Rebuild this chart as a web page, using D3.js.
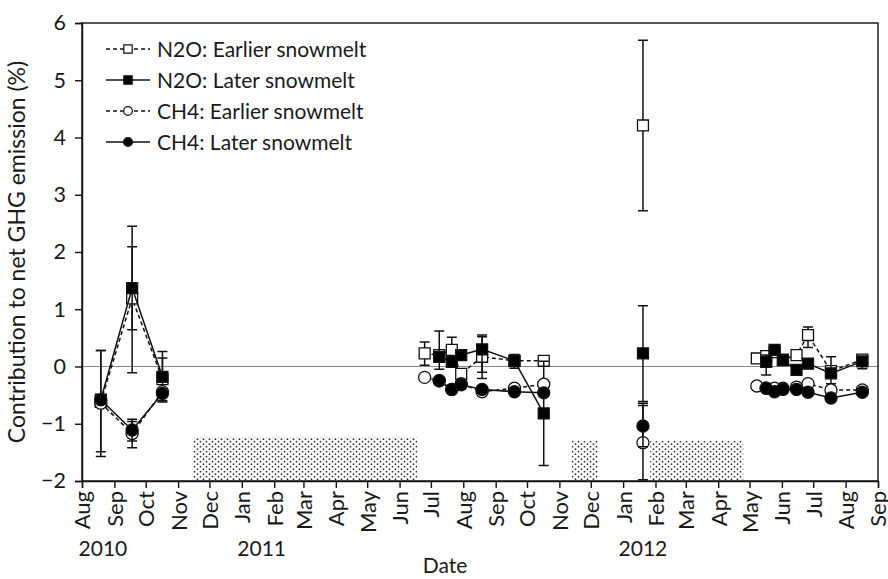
<!DOCTYPE html>
<html>
<head>
<meta charset="utf-8">
<script src="https://cdn.jsdelivr.net/npm/d3@7"></script>
<style>
  body { margin: 0; background: #fff; }
  text { font-family: Lato, "Open Sans", sans-serif; fill: #1a1a1a; }
</style>
</head>
<body>
<div id="chart"></div>
<script>
// sampling dates
const earlyDates = ['2010-08-19', '2010-09-18', '2010-10-17',
  '2011-06-25', '2011-07-09', '2011-07-21', '2011-07-30', '2011-08-19', '2011-09-19', '2011-10-17',
  '2012-01-20',
  '2012-05-08', '2012-05-17', '2012-05-25', '2012-06-02', '2012-06-15', '2012-06-26', '2012-07-18', '2012-08-17'];
const lateDates = ['2010-08-19', '2010-09-18', '2010-10-17',
  '2011-07-09', '2011-07-21', '2011-07-30', '2011-08-19', '2011-09-19', '2011-10-17',
  '2012-01-20',
  '2012-05-17', '2012-05-25', '2012-06-02', '2012-06-15', '2012-06-26', '2012-07-18', '2012-08-17'];

// N2O, earlier snowmelt
const n2oEarly   = [-0.62, 1.19, -0.22, 0.23, 0.20, 0.29, -0.13, 0.17, 0.10, 0.10, 4.21, 0.14, 0.18, 0.25, 0.12, 0.20, 0.55, -0.08, 0.12];
const n2oEarlyLo = [-1.49, -0.11, -0.60, 0.02, null, 0.06, null, -0.21, -0.03, null, 2.72, null, null, null, null, null, 0.33, null, null];
const n2oEarlyHi = [0.28, 2.09, 0.15, 0.43, null, 0.51, null, 0.55, 0.21, null, 5.70, null, null, null, null, null, 0.69, null, null];
// N2O, later snowmelt
const n2oLate   = [-0.58, 1.37, -0.18, 0.17, 0.08, 0.20, 0.30, 0.10, -0.82, 0.23, 0.08, 0.29, 0.11, -0.06, 0.05, -0.12, 0.09];
const n2oLateLo = [-1.57, 0.64, -0.62, -0.05, null, null, -0.10, 0.00, -1.73, -0.61, -0.15, null, null, null, null, -0.30, -0.04];
const n2oLateHi = [0.28, 2.45, 0.26, 0.62, null, null, 0.52, 0.20, 0.09, 1.06, 0.20, null, null, null, null, 0.17, 0.15];
// CH4, earlier snowmelt
const ch4Early   = [-0.64, -1.17, -0.44, -0.19, -0.25, -0.40, -0.30, -0.44, -0.38, -0.31, -1.33, -0.34, -0.38, -0.38, -0.38, -0.36, -0.30, -0.41, -0.41];
const ch4EarlyLo = [null, -1.42, null, null, null, null, null, null, null, null, -1.98, null, null, null, null, null, null, null, null];
const ch4EarlyHi = [null, -0.92, null, null, null, null, null, null, null, null, -0.68, null, null, null, null, null, null, null, null];
// CH4, later snowmelt
const ch4Late   = [-0.58, -1.11, -0.47, -0.25, -0.40, -0.32, -0.40, -0.44, -0.46, -1.04, -0.38, -0.44, -0.40, -0.40, -0.45, -0.55, -0.45];
const ch4LateLo = [null, -1.30, null, null, null, null, null, null, null, -1.40, null, null, null, null, null, null, null];
const ch4LateHi = [null, -0.96, null, null, null, null, null, null, null, -0.64, null, null, null, null, null, null, null];

// snow-covered periods (shaded)
const snowStart = ['2010-11-15', '2011-11-13', '2012-01-27'];
const snowEnd   = ['2011-06-18', '2011-12-08', '2012-04-25'];
const snowTop   = [-1.24, -1.30, -1.30];

const legendLabels = ['N2O: Earlier snowmelt', 'N2O: Later snowmelt', 'CH4: Earlier snowmelt', 'CH4: Later snowmelt'];
const yearLabels = ['2010', '2011', '2012'];
const yearDates = ['2010-08-21', '2011-01-20', '2012-01-20'];

const parse = d3.timeParse('%Y-%m-%d');

const margin = {top: 23, right: 10, bottom: 98, left: 82};
const W = 888, H = 579;
const w = W - margin.left - margin.right;
const h = H - margin.top - margin.bottom;

const svg = d3.select('#chart').append('svg')
  .attr('width', W)
  .attr('height', H);

const defs = svg.append('defs');
const pat = defs.append('pattern')
  .attr('id', 'dots')
  .attr('patternUnits', 'userSpaceOnUse')
  .attr('width', 6).attr('height', 5);
pat.append('rect').attr('width', 6).attr('height', 5).attr('fill', '#fff');
pat.append('circle').attr('cx', 1.5).attr('cy', 1.2).attr('r', 0.9).attr('fill', '#333');
pat.append('circle').attr('cx', 4.5).attr('cy', 3.7).attr('r', 0.9).attr('fill', '#333');

const g = svg.append('g')
  .attr('transform', `translate(${margin.left},${margin.top})`);

const x = d3.scaleTime()
  .domain([parse('2010-08-01'), parse('2012-09-01')])
  .range([0, w]);
const y = d3.scaleLinear()
  .domain([-2, 6])
  .range([h, 0]);

// shaded snow periods
g.selectAll('.snow')
  .data(snowStart.map((s, i) => ({s: parse(s), e: parse(snowEnd[i]), top: snowTop[i]})))
  .join('rect')
    .attr('class', 'snow')
    .attr('x', d => x(d.s))
    .attr('width', d => x(d.e) - x(d.s))
    .attr('y', d => y(d.top))
    .attr('height', d => y(-2) - y(d.top))
    .attr('fill', 'url(#dots)');

// zero line
g.append('line')
  .attr('x1', 0).attr('x2', w)
  .attr('y1', y(0)).attr('y2', y(0))
  .attr('stroke', '#8a8a8a').attr('stroke-width', 1.2);

// axes
const yAxis = g.append('g')
  .call(d3.axisLeft(y).ticks(8).tickSize(7).tickPadding(9).tickFormat(d => d < 0 ? '\u2212' + Math.abs(d) : d));
yAxis.selectAll('text').attr('font-size', 21.5).attr('font-family', 'Lato, sans-serif');

const xAxis = g.append('g')
  .attr('transform', `translate(0,${h})`)
  .call(d3.axisBottom(x).ticks(d3.timeMonth.every(1)).tickFormat(d3.timeFormat('%b')).tickSize(7));
xAxis.selectAll('text')
  .attr('transform', 'rotate(-90)')
  .attr('text-anchor', 'end')
  .attr('x', -10)
  .attr('y', 0)
  .attr('dy', '.36em')
  .attr('font-size', 22)
  .attr('font-family', 'Lato, sans-serif');

[yAxis, xAxis].forEach(a => {
  a.selectAll('line').attr('stroke', '#111').attr('stroke-width', 1.4);
  a.select('.domain').attr('stroke', '#111').attr('stroke-width', 1.4);
});

// frame
g.append('rect')
  .attr('width', w).attr('height', h)
  .attr('fill', 'none')
  .attr('stroke', '#111').attr('stroke-width', 1.4);

// series
const series = [
  {dates: earlyDates, vals: n2oEarly, lo: n2oEarlyLo, hi: n2oEarlyHi, shape: d3.symbolSquare, size: 120, filled: false, dash: '4,3'},
  {dates: lateDates,  vals: n2oLate,  lo: n2oLateLo,  hi: n2oLateHi,  shape: d3.symbolSquare, size: 120, filled: true,  dash: null},
  {dates: earlyDates, vals: ch4Early, lo: ch4EarlyLo, hi: ch4EarlyHi, shape: d3.symbolCircle, size: 115, filled: false, dash: '4,3'},
  {dates: lateDates,  vals: ch4Late,  lo: ch4LateLo,  hi: ch4LateHi,  shape: d3.symbolCircle, size: 115, filled: true,  dash: null}
];

const line = d3.line()
  .x(d => x(d.date))
  .y(d => y(d.v));

series.forEach(s => {
  const pts = s.dates.map((d, i) => ({date: parse(d), v: s.vals[i], lo: s.lo[i], hi: s.hi[i]}));

  // break the line between field seasons
  const runs = [];
  pts.forEach((p, i) => {
    if (i === 0 || (p.date - pts[i - 1].date) / 864e5 > 60) runs.push([]);
    runs[runs.length - 1].push(p);
  });

  const sg = g.append('g');

  sg.selectAll('.run')
    .data(runs)
    .join('path')
      .attr('class', 'run')
      .attr('d', line)
      .attr('fill', 'none')
      .attr('stroke', '#111')
      .attr('stroke-width', 1.5)
      .attr('stroke-dasharray', s.dash);

  const err = pts.filter(p => p.lo !== null);
  sg.selectAll('.err')
    .data(err)
    .join('path')
      .attr('class', 'err')
      .attr('d', p => {
        const cx = x(p.date), y0 = y(p.lo), y1 = y(p.hi);
        return `M${cx},${y0}V${y1}M${cx - 5},${y0}H${cx + 5}M${cx - 5},${y1}H${cx + 5}`;
      })
      .attr('fill', 'none')
      .attr('stroke', '#111')
      .attr('stroke-width', 1.5);

  sg.selectAll('.mark')
    .data(pts)
    .join('path')
      .attr('class', 'mark')
      .attr('transform', p => `translate(${x(p.date)},${y(p.v)})`)
      .attr('d', d3.symbol().type(s.shape).size(s.size))
      .attr('fill', s.filled ? '#000' : '#fff')
      .attr('stroke', '#111')
      .attr('stroke-width', 1.3);
});

// legend
const leg = svg.append('g').attr('transform', 'translate(106,49)');
legendLabels.forEach((lab, i) => {
  const s = series[i];
  const row = leg.append('g').attr('transform', `translate(0,${i * 31})`);
  row.append('line')
    .attr('x1', 0).attr('x2', 44)
    .attr('stroke', '#111').attr('stroke-width', 1.5)
    .attr('stroke-dasharray', s.dash);
  row.append('path')
    .attr('transform', 'translate(22,0)')
    .attr('d', d3.symbol().type(s.shape).size(s.shape === d3.symbolSquare ? 70 : 60))
    .attr('fill', s.filled ? '#000' : '#fff')
    .attr('stroke', '#111').attr('stroke-width', 1.2);
  row.append('text')
    .attr('x', 51).attr('dy', '.36em')
    .attr('font-size', 21)
    .text(lab);
});

// year labels
svg.selectAll('.year')
  .data(yearLabels)
  .join('text')
    .attr('class', 'year')
    .attr('x', (d, i) => margin.left + x(parse(yearDates[i])))
    .attr('y', 556)
    .attr('text-anchor', 'middle')
    .attr('font-size', 21)
    .text(d => d);

// axis titles
svg.append('text')
  .attr('x', 445).attr('y', 573)
  .attr('text-anchor', 'middle')
  .attr('font-size', 21)
  .text('Date');

svg.append('text')
  .attr('transform', `translate(25,${margin.top + h / 2}) rotate(-90)`)
  .attr('text-anchor', 'middle')
  .attr('font-size', 23)
  .text('Contribution to net GHG emission (%)');
</script>
</body>
</html>
